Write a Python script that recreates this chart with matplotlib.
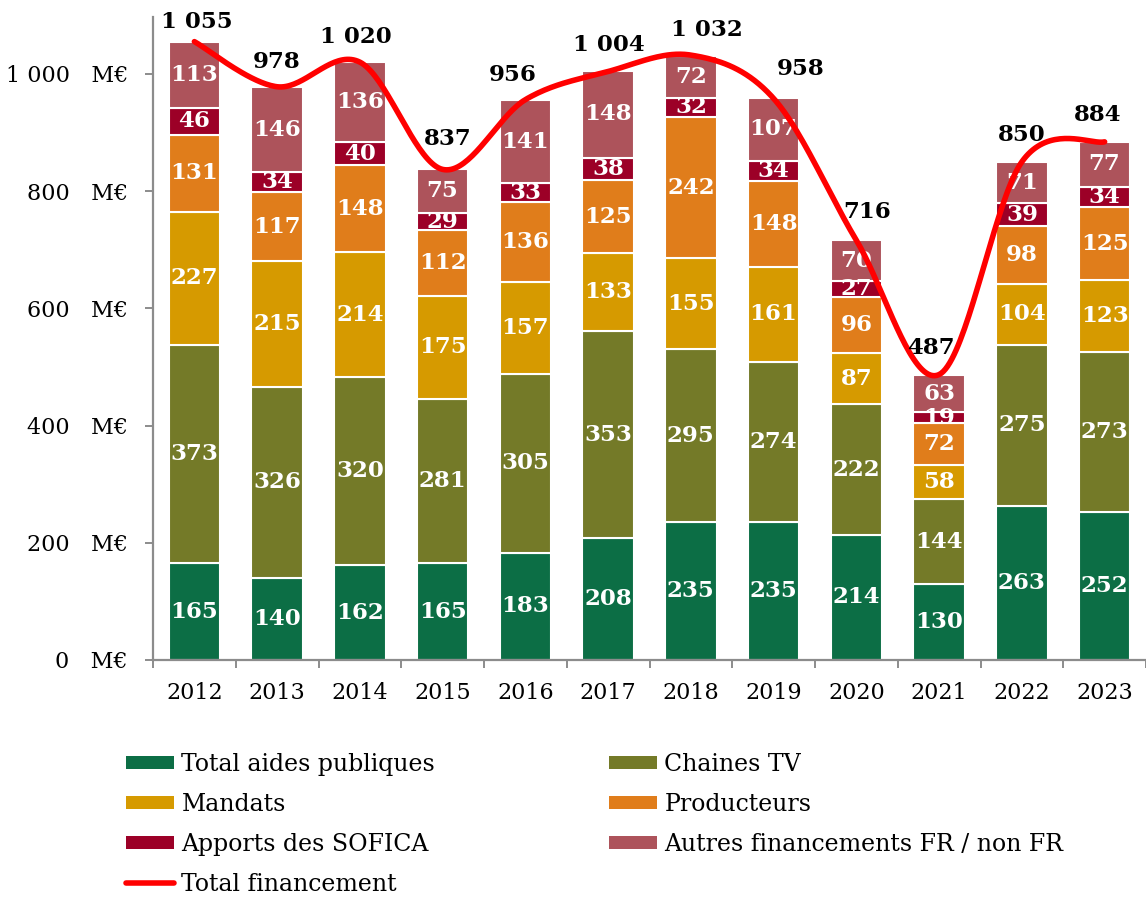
import numpy as np
import matplotlib
matplotlib.use("Agg")
import matplotlib.pyplot as plt
from matplotlib.patches import Patch
from matplotlib.lines import Line2D

# --------------------------
# data (M€)
years = ["2012", "2013", "2014", "2015", "2016", "2017",
         "2018", "2019", "2020", "2021", "2022", "2023"]
aides_publiques = [165, 140, 162, 165, 183, 208, 235, 235, 214, 130, 263, 252]
chaines_tv = [373, 326, 320, 281, 305, 353, 295, 274, 222, 144, 275, 273]
mandats = [227, 215, 214, 175, 157, 133, 155, 161, 87, 58, 104, 123]
producteurs = [131, 117, 148, 112, 136, 125, 242, 148, 96, 72, 98, 125]
sofica = [46, 34, 40, 29, 33, 38, 32, 34, 27, 19, 39, 34]
autres = [113, 146, 136, 75, 141, 148, 72, 107, 70, 63, 71, 77]
total_financement = [1055, 978, 1020, 837, 956, 1004, 1032, 958, 716, 487, 850, 884]

series_names = ["Total aides publiques", "Chaines TV", "Mandats", "Producteurs",
                "Apports des SOFICA", "Autres financements FR / non FR"]
series_values = [aides_publiques, chaines_tv, mandats, producteurs, sofica, autres]
colors = ["#0C6E45", "#747A28", "#D69A00", "#E07D1B", "#9C0027", "#AD535B"]
line_color = "#FF0000"
y_ticks = [0, 200, 400, 600, 800, 1000]

# manual nudges of the total labels (pixels), like dragged labels in Excel
total_label_dx = [2, 0, -4, 5, -13, 1, 16, 27, 11, -8, 0, -7]
total_label_dy = [20, 25, 25, 30, 25, 27, 25, 29, 28, 27, 27, 27]

plt.rcParams['font.family'] = ['DejaVu Serif']


def fmt_thousands(v):
    return f"{v:,}".replace(",", " ")


def smooth_curve(x, y, n=40):
    # Excel-like smoothed line: cubic Bezier with control points from neighbours
    pts = np.column_stack([x, y]).astype(float)
    out = []
    for i in range(len(pts) - 1):
        p0 = pts[max(i - 1, 0)]
        p1 = pts[i]
        p2 = pts[i + 1]
        p3 = pts[min(i + 2, len(pts) - 1)]
        c1 = p1 + (p2 - p0) / 6.0
        c2 = p2 - (p3 - p1) / 6.0
        t = np.linspace(0, 1, n)[:, None]
        seg = ((1 - t) ** 3) * p1 + 3 * ((1 - t) ** 2) * t * c1 \
            + 3 * (1 - t) * (t ** 2) * c2 + (t ** 3) * p2
        out.append(seg if i == 0 else seg[1:])
    out = np.vstack(out)
    return out[:, 0], out[:, 1]


fig = plt.figure(figsize=(11.46, 9), dpi=100)
ax = fig.add_axes([153 / 1146, 1 - 660 / 900, 1 - 153 / 1146, (660 - 17) / 900])

x = np.arange(len(years))
bottom = np.zeros(len(years))
for name, vals, col in zip(series_names, series_values, colors):
    vals = np.array(vals, dtype=float)
    ax.bar(x, vals, width=0.62, bottom=bottom, color=col, edgecolor="white",
           linewidth=1.5, zorder=2, label=name)
    for xi, b, v in zip(x, bottom, vals):
        ax.text(xi, b + v / 2, str(int(v)), ha="center", va="center",
                color="white", fontsize=16.5, fontweight="bold", zorder=3)
    bottom += vals

sx, sy = smooth_curve(x, total_financement)
ax.plot(sx, sy, color=line_color, lw=4, zorder=4, solid_capstyle="round")

px = 72 / 100  # pixels -> points
for xi, v, dx, dy in zip(x, total_financement, total_label_dx, total_label_dy):
    ax.annotate(fmt_thousands(v), (xi, v), xytext=(dx * px, dy * px),
                textcoords="offset points", ha="center", va="center",
                fontsize=16.5, fontweight="bold", color="black", zorder=5)

ax.set_xlim(-0.5, 11.48)
ax.set_ylim(0, 1097)

ax.set_yticks(y_ticks)
ax.set_yticklabels([fmt_thousands(v) + "   M€" for v in y_ticks])
ax.set_xticks(x)
ax.set_xticklabels(years)
ax.set_xticks(np.arange(-0.5, len(years), 1.0), minor=True)

axis_grey = "#8C8C8C"
for side in ("top", "right"):
    ax.spines[side].set_visible(False)
for side in ("left", "bottom"):
    ax.spines[side].set_color(axis_grey)
    ax.spines[side].set_linewidth(1.6)

ax.tick_params(axis="y", direction="out", length=6, width=1.4, color=axis_grey,
               labelsize=16, pad=12)
ax.tick_params(axis="x", which="major", length=0, labelsize=16, pad=16)
ax.tick_params(axis="x", which="minor", direction="out", length=6, width=1.4,
               color=axis_grey)

# legend, two columns placed like the Excel layout
handles = {name: Patch(facecolor=col, edgecolor="none")
           for name, col in zip(series_names, colors)}
line_handle = Line2D([0], [0], color=line_color, lw=4, solid_capstyle="round")

leg_kw = dict(frameon=False, fontsize=17, loc="upper left", borderpad=0,
              borderaxespad=0, handlelength=2.05, handleheight=0.5,
              handletextpad=0.3, labelspacing=0.72)
col1 = ["Total aides publiques", "Mandats", "Apports des SOFICA"]
leg1 = fig.legend([handles[n] for n in col1] + [line_handle],
                  col1 + ["Total financement"],
                  bbox_to_anchor=(126 / 1146, 1 - 753 / 900), **leg_kw)
col2 = ["Chaines TV", "Producteurs", "Autres financements FR / non FR"]
leg2 = fig.legend([handles[n] for n in col2], col2,
                  bbox_to_anchor=(609 / 1146, 1 - 753 / 900), **leg_kw)

fig.savefig("out.png", dpi=100)
